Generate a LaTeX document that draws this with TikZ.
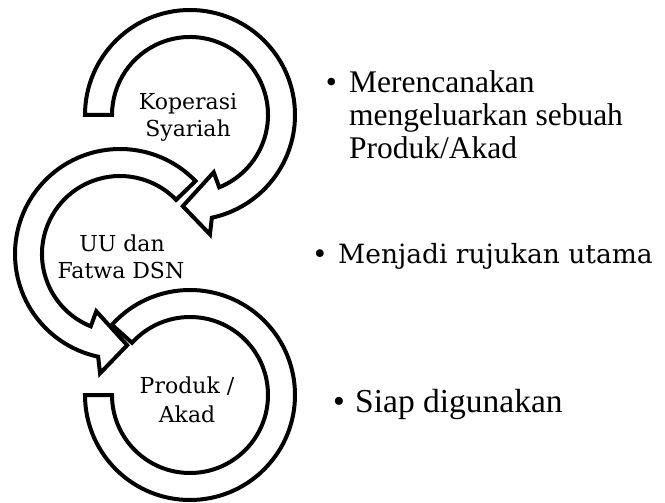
\documentclass[tikz,border=0pt]{standalone}
\usepackage{fontspec}
\setmainfont{Liberation Serif}
\newfontfamily\camb{DejaVu Serif}
\begin{document}
\begin{tikzpicture}[x=1pt,y=1pt,
  arrowshape/.style={draw=black, line width=4pt, fill=white, line join=miter},
  lbl/.style={font=\camb\fontsize{22}{27}\selectfont, inner sep=0pt, anchor=base},
  rtimes/.style={font=\fontsize{31.5}{32.5}\selectfont, inner sep=0pt, anchor=base west},
  rsiap/.style={font=\fontsize{33.5}{38}\selectfont, inner sep=0pt, anchor=base west},
  rcamb/.style={font=\camb\fontsize{26.5}{30}\selectfont, inner sep=0pt, anchor=base west}]
\useasboundingbox (0,0) rectangle (665,-503);

% arrow 1
\begin{scope}[shift={(190,-115)}]
\draw[arrowshape] (180:105) arc[start angle=180, end angle=-78, radius=105]
  -- (-80.5:121) -- (-94.5:91.5) -- (-67.5:62) -- (-68:78)
  arc[start angle=-68, end angle=180, radius=78] -- cycle;
\end{scope}
% arrow 2
\begin{scope}[shift={(120,-254)}]
\draw[arrowshape] (44:105) arc[start angle=44, end angle=258, radius=105]
  -- (260.5:121) -- (274.5:91.5) -- (247.5:62) -- (248:78)
  arc[start angle=248, end angle=44, radius=78] -- cycle;
\end{scope}
% arrow 3
\begin{scope}[shift={(190,-395)}]
\draw[arrowshape] (138:105) arc[start angle=138, end angle=-180, radius=105]
  -- (-180:78) arc[start angle=-180, end angle=138, radius=78] -- cycle;
\end{scope}

% circle labels
\node[lbl] (k1) at (188,-110) {Koperasi};
\node[lbl] (k2) at (188,-137) {Syariah};
\node[lbl] (u1) at (122,-251) {UU dan};
\node[lbl] (u2) at (121,-278) {Fatwa DSN};
\node[lbl] (p1) at (187,-393) {Produk /};
\node[lbl] (p2) at (187,-422) {Akad};

% right texts
\node[font=\fontsize{31.5}{32.5}\selectfont, inner sep=0pt, anchor=base] (b1) at (331.5,-93) {•};
\node[rtimes] (t1) at (349,-93) {Merencanakan};
\node[rtimes] (t2) at (349,-126) {mengeluarkan sebuah};
\node[rtimes] (t3) at (349,-158) {Produk/Akad};

\node[font=\camb\fontsize{26.5}{30}\selectfont, inner sep=0pt, anchor=base] (b2) at (320,-263) {•};
\node[rcamb] (m1) at (338,-263) {Menjadi rujukan utama};

\node[font=\fontsize{33.5}{38}\selectfont, inner sep=0pt, anchor=base] (b3) at (339,-412) {•};
\node[rsiap] (s1) at (355,-412) {Siap digunakan};
\end{tikzpicture}
\end{document}
